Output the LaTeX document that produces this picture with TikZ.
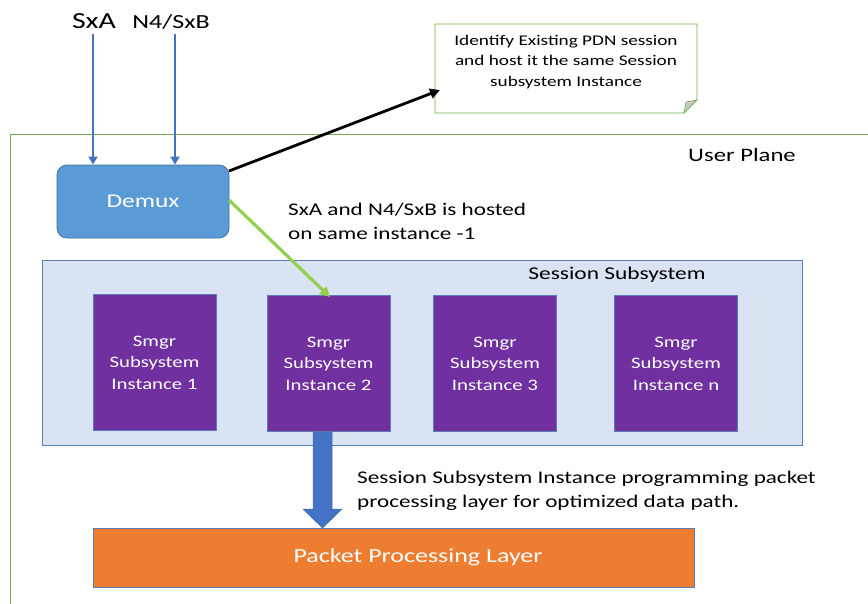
\documentclass[tikz,border=0pt]{standalone}
\usepackage{fontspec}
\setmainfont{Carlito}[FakeStretch=1.3]
\usetikzlibrary{arrows.meta}
\definecolor{demuxfill}{HTML}{5B9BD5}
\definecolor{demuxline}{HTML}{41719C}
\definecolor{inarrow}{HTML}{4472C4}
\definecolor{planegreen}{HTML}{70AD47}
\definecolor{lightgreen}{HTML}{92D050}
\definecolor{sessfill}{HTML}{DAE3F3}
\definecolor{sessline}{HTML}{5B7DB5}
\definecolor{purp}{HTML}{7030A0}
\definecolor{orng}{HTML}{ED7D31}
\begin{document}
\begin{tikzpicture}[x=1pt,y=-1pt,
  smgr/.style={draw=sessline,fill=purp,line width=0.8pt,minimum width=123pt,minimum height=136pt,text=white,font=\fontsize{16}{21.5}\selectfont,align=center,inner sep=0pt},
  label/.style={font=\fontsize{17.8}{24}\selectfont,align=left,inner sep=0pt,anchor=north west},
  inarr/.style={draw=inarrow,line width=2.8pt,-{Triangle[length=8pt,width=9pt]}}]
\useasboundingbox (0,0) rectangle (868,603);
% user plane
\draw[planegreen,line width=0.8pt] (10,134) -- (870,134);
\draw[planegreen,line width=0.8pt] (10,134) -- (10,606);
\node[font=\fontsize{19}{22}\selectfont,anchor=base] (up) at (742,161) {User Plane};
% session subsystem
\node[draw=sessline,fill=sessfill,line width=0.8pt,minimum width=760pt,minimum height=185pt,inner sep=0pt] (sess) at (422,352.5) {};
\node[font=\fontsize{18}{20}\selectfont,anchor=base] (sesslab) at (617,279) {Session Subsystem};
\node[smgr] (s1) at (154.5,362.5) {Smgr\\Subsystem\\Instance 1};
\node[smgr] (s2) at (328.5,363.5) {Smgr\\Subsystem\\Instance 2};
\node[smgr] (s3) at (495,363.5) {Smgr\\Subsystem\\Instance 3};
\node[smgr] (s4) at (676,363.5) {Smgr\\Subsystem\\Instance n};
% packet processing layer
\node[draw=sessline,fill=orng,line width=0.8pt,minimum width=601pt,minimum height=59pt,inner sep=0pt] (ppl) at (393.5,557.5) {};
\node[text=white,font=\fontsize{20}{24}\selectfont] (ppltext) at (418,557) {Packet Processing Layer};
% block arrow
\fill[inarrow,draw=demuxline,line width=0.5pt] (313,432) -- (332,432) -- (332,509) -- (342,509) -- (322.5,528) -- (303,509) -- (313,509) -- cycle;
% demux
\node[draw=demuxline,fill=demuxfill,line width=0.8pt,rounded corners=10pt,minimum width=172pt,minimum height=73pt,inner sep=0pt,text=white,font=\fontsize{19.5}{22}\selectfont] (demux) at (143,201.5) {Demux};
% inputs
\node[font=\fontsize{23}{28}\selectfont,anchor=base] (sxa) at (94,28) {SxA};
\node[font=\fontsize{20}{26}\selectfont,anchor=base] (n4) at (171,28) {N4/SxB};
\coordinate (a1) at (93,34);
\coordinate (a2) at (175,34);
\draw[inarr] (a1) -- (a1 |- demux.north);
\draw[inarr] (a2) -- (a2 |- demux.north);
% note
\draw[planegreen,fill=white,line width=0.8pt] (435,24) -- (697,24) -- (697,100) -- (684,113) -- (435,113) -- cycle;
\filldraw[planegreen,fill=gray!45,line width=0.6pt] (684,113) -- (686,102) -- (697,100) -- cycle;
\node[font=\fontsize{14.8}{20.5}\selectfont,align=center] (note) at (566,62) {Identify Existing PDN session\\and host it the same Session\\subsystem Instance};
\coordinate (notein) at (440,90);
\draw[black,line width=2.8pt,-{Triangle[length=10pt,width=10pt]}] (229,171) -- (notein);
% green arrow
\coordinate (s2top) at (330,297);
\draw[lightgreen,line width=3.2pt,-{Triangle[length=10pt,width=10pt]}] (229,200) -- (s2top);
% labels
\node[label] (lab1) at (288,203) {SxA and N4/SxB is hosted\\on same instance -1};
\node[label] (lab2) at (357,471) {Session Subsystem Instance programming packet\\processing layer for optimized data path.};
\end{tikzpicture}
\end{document}
